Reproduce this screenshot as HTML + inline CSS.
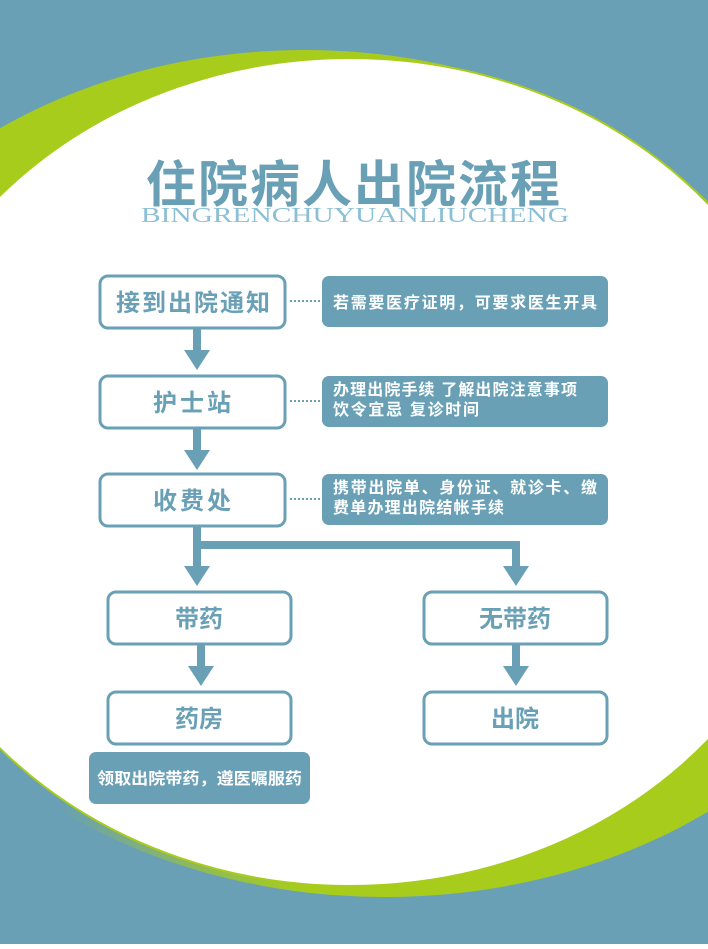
<!DOCTYPE html>
<html><head><meta charset="utf-8"><style>
html,body{margin:0;padding:0;}
body{width:708px;height:944px;overflow:hidden;}
svg text{font-family:"Liberation Sans","Noto Sans CJK SC",sans-serif;font-weight:bold;}
</style></head><body>
<svg width="708" height="944" viewBox="0 0 708 944" xmlns="http://www.w3.org/2000/svg">
<defs>
<clipPath id="top"><rect x="0" y="0" width="708" height="472"/></clipPath>
<linearGradient id="fade" gradientUnits="userSpaceOnUse" x1="60" y1="800" x2="300" y2="900">
<stop offset="0" stop-color="#fff" stop-opacity="0"/>
<stop offset="1" stop-color="#fff" stop-opacity="1"/>
</linearGradient>
<mask id="bot" maskUnits="userSpaceOnUse" x="0" y="0" width="708" height="944">
<rect x="0" y="472" width="708" height="472" fill="url(#fade)"/>
</mask>
</defs>
<rect width="708" height="944" fill="#69a0b6"/>
<ellipse cx="305" cy="462" rx="520" ry="412" fill="#a8cc1c" clip-path="url(#top)"/>
<ellipse cx="385" cy="485" rx="530" ry="412" fill="#a8cc1c" mask="url(#bot)"/>
<ellipse cx="350" cy="472" rx="470" ry="414" fill="#ffffff" stroke="#a8cc1c" stroke-width="2"/>
<text x="354" y="202" text-anchor="middle" font-size="50" fill="#69a0b6" letter-spacing="2">住院病人出院流程</text>
<text x="355" y="222" text-anchor="middle" font-size="21" fill="#8bbfd6" style="font-family:'Liberation Serif',serif;font-weight:normal" textLength="428" lengthAdjust="spacingAndGlyphs">BINGRENCHUYUANLIUCHENG</text>
<g fill="#fff" stroke="#69a0b6" stroke-width="3">
<rect x="100" y="276" width="185" height="52" rx="8"/>
<rect x="100" y="376" width="185" height="52" rx="8"/>
<rect x="100" y="474" width="185" height="52" rx="8"/>
<rect x="108" y="592" width="183" height="52" rx="8"/>
<rect x="424" y="592" width="183" height="52" rx="8"/>
<rect x="108" y="692" width="183" height="52" rx="8"/>
<rect x="424" y="692" width="183" height="52" rx="8"/>
</g>
<g fill="#69a0b6">
<rect x="322" y="276" width="286" height="51" rx="7"/>
<rect x="322" y="376" width="286" height="51" rx="7"/>
<rect x="322" y="474" width="286" height="51" rx="7"/>
<rect x="89" y="752" width="221" height="52" rx="7"/>
<rect x="193" y="329" width="8" height="22"/><polygon points="184,350 210,350 197,370"/>
<rect x="193" y="429" width="8" height="22"/><polygon points="184,450 210,450 197,470"/>
<rect x="193" y="527" width="8" height="40"/><polygon points="184,566 210,566 197,586"/>
<rect x="193" y="541" width="327" height="8"/>
<rect x="512" y="541" width="8" height="26"/><polygon points="503,566 529,566 516,586"/>
<rect x="197" y="645" width="8" height="22"/><polygon points="188,666 214,666 201,686"/>
<rect x="512" y="645" width="8" height="22"/><polygon points="503,666 529,666 516,686"/>
</g>
<g stroke="#69a0b6" stroke-width="2" stroke-dasharray="2,2">
<line x1="290" y1="301" x2="320" y2="301"/>
<line x1="290" y1="401" x2="320" y2="401"/>
<line x1="290" y1="499" x2="320" y2="499"/>
</g>
<g fill="#69a0b6" text-anchor="middle">
<text x="193" y="311" font-size="24" textLength="154">接到出院通知</text>
<text x="192" y="411" font-size="24" textLength="78">护士站</text>
<text x="192" y="509" font-size="24" textLength="78">收费处</text>
<text x="199" y="627" font-size="24">带药</text>
<text x="515" y="627" font-size="24">无带药</text>
<text x="199" y="727" font-size="24">药房</text>
<text x="515" y="727" font-size="24">出院</text>
</g>
<g fill="#fff" font-size="16">
<text x="333" y="308" textLength="264">若需要医疗证明，可要求医生开具</text>
<text x="333" y="395" textLength="244">办理出院手续 了解出院注意事项</text>
<text x="333" y="415" textLength="146">饮令宜忌 复诊时间</text>
<text x="333" y="493" textLength="264">携带出院单、身份证、就诊卡、缴</text>
<text x="333" y="513" textLength="171">费单办理出院结帐手续</text>
<text x="97" y="784" font-size="16" textLength="205" lengthAdjust="spacingAndGlyphs">领取出院带药，遵医嘱服药</text>
</g>
</svg>
</body></html>
